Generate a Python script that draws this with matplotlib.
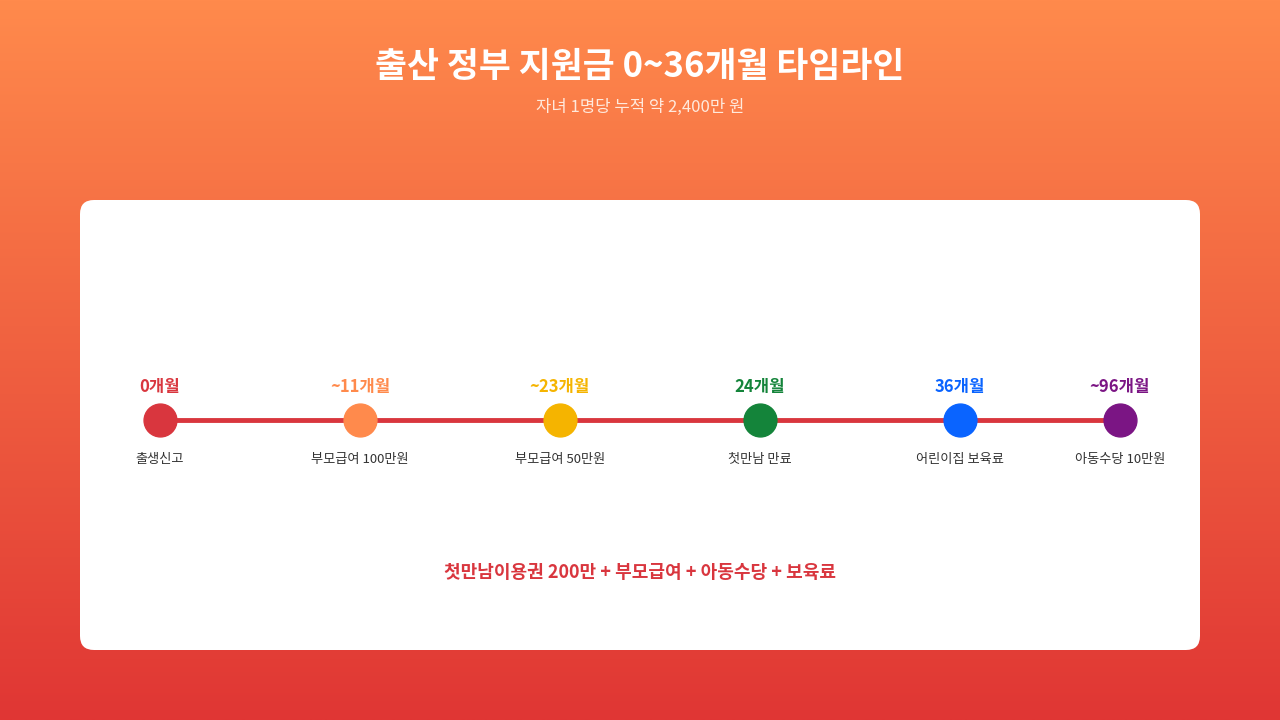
import matplotlib
matplotlib.use("Agg")
import matplotlib.pyplot as plt
import numpy as np
from matplotlib.patches import FancyBboxPatch

plt.rcParams['font.family'] = ['Noto Sans CJK KR', 'DejaVu Sans']

title = "출산 정부 지원금 0~36개월 타임라인"
subtitle = "자녀 1명당 누적 약 2,400만 원"
stages = ["0개월", "~11개월", "~23개월", "24개월", "36개월", "~96개월"]
descs = ["출생신고", "부모급여 100만원", "부모급여 50만원", "첫만남 만료", "어린이집 보육료", "아동수당 10만원"]
colors = ["#D9363E", "#FF8A4C", "#F5B400", "#14843A", "#0A64FF", "#7B1584"]
summary = "첫만남이용권 200만 + 부모급여 + 아동수당 + 보육료"

fig = plt.figure(figsize=(12.8, 7.2), dpi=100)
ax = fig.add_axes([0, 0, 1, 1])
ax.set_xlim(0, 1280); ax.set_ylim(720, 0); ax.axis('off')

# gradient background
top = np.array([255, 138, 76]) / 255
bot = np.array([224, 54, 52]) / 255
t = np.linspace(0, 1, 256)[:, None, None]
grad = top * (1 - t) + bot * t
ax.imshow(np.repeat(grad, 2, axis=1), extent=[0, 1280, 720, 0], aspect='auto', zorder=0)

ax.text(640, 66, title, ha='center', va='center', color='white', fontsize=25, fontweight='bold')
ax.text(640, 107, subtitle, ha='center', va='center', color='#FFE9DC', fontsize=12)

card = FancyBboxPatch((80, 200), 1120, 450, boxstyle="round,pad=0,rounding_size=14",
                      fc='white', ec='none', zorder=1)
ax.add_patch(card)

xs = [160, 360, 560, 760, 960, 1120]
ax.plot([xs[0], xs[-1]], [420, 420], color='#D9363E', lw=3.5, zorder=2)
for x, s, d, c in zip(xs, stages, descs, colors):
    ax.scatter([x], [420], s=560, color=c, zorder=3)
    ax.text(x, 387, s, ha='center', va='center', color=c, fontsize=12, fontweight='bold', zorder=4)
    ax.text(x, 460, d, ha='center', va='center', color='#333333', fontsize=9.5, zorder=4)

ax.text(640, 573, summary, ha='center', va='center', color='#D9363E', fontsize=13, fontweight='bold', zorder=4)

fig.savefig("out.png", dpi=100)
